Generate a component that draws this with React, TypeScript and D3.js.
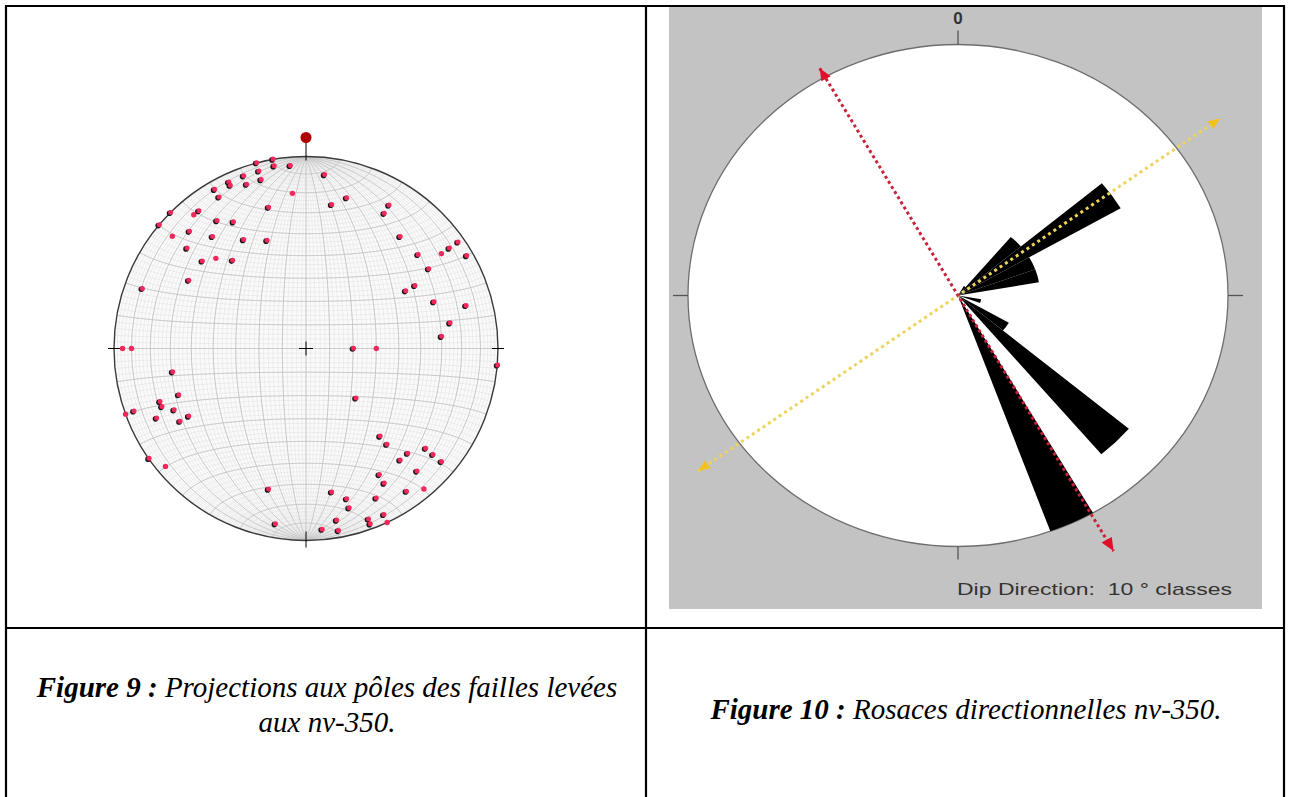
import React from "react";
import * as d3 from "d3";

const W = 1291;
const H = 797;

// Figure 9 — poles (trend, plunge in degrees), lower hemisphere
const poles: [number, number][] = [
  [350, 0], [345, 0], [350, 4], [355, 5], [345, 5], [340, 5], [345, 10], [335, 5],
  [340, 10], [335, 7], [330, 5], [330, 10], [345, 25], [315, 0], [322, 10], [325, 20],
  [330, 25], [310, 0], [315, 15], [320, 25], [330, 35], [340, 40], [310, 20], [310, 30],
  [320, 40], [300, 30], [290, 10],
  [6, 10], [15, 20], [10, 25], [30, 15], [30, 20], [40, 25], [55, 4], [55, 10],
  [50, 25], [60, 4], [57, 25], [60, 35], [60, 40], [70, 30], [75, 15], [80, 25], [85, 30],
  [90, 70], [95, 0], [135, 60],
  [260, 30], [250, 30], [250, 20], [248, 20], [250, 5], [245, 25], [245, 15], [240, 30],
  [240, 25], [235, 0],
  [140, 40], [140, 35], [130, 20], [136, 25], [130, 15], [140, 25], [130, 9], [150, 25],
  [138, 15], [150, 20], [195, 25], [170, 25], [145, 10], [165, 20], [155, 15], [165, 15],
  [155, 5], [170, 10], [160, 6], [160, 3], [190, 8], [175, 6], [170, 4],
];
// poles drawn without the dark outline
const plainPoles: [number, number][] = [
  [355, 20], [320, 10], [310, 10], [315, 34], [55, 15], [270, 5], [270, 10],
  [90, 60], [250, 0], [230, 5], [140, 5], [155, 0],
];

// Figure 10 — dip direction rose, 10° classes
const roseClassStart = d3.range(0, 360, 10);
const roseCounts = [
  0, 0, 0, 1, 7, 16, 7, 7, 0, 0, 2, 0,
  5, 19, 0, 23, 0, 0, 0, 0, 0, 0, 0, 0,
  0, 0, 0, 0, 0, 0, 0, 0, 0, 0, 0, 0,
];
const roseMax = 23;
// mean axes: azimuth, forward and backward reach (fraction of radius)
const redAxis = { azimuth: 150.5, fwd: 1.17, back: 1.04 };
const yellowAxis = { azimuth: 54, fwd: 1.2, back: 1.19 };

// stereonet geometry
const sx = 306;
const sy = 348.5;
const sR = 192;

// rose geometry
const rx = 958;
const ry = 295.5;
const rR = 251;
const stretch = 270 / 251;

const rad = (deg: number) => (deg * Math.PI) / 180;
const polar = (az: number, r: number): [number, number] => [
  r * Math.sin(rad(az)),
  -r * Math.cos(rad(az)),
];

const Stereonet: React.FC = () => {
  const net = d3
    .geoAzimuthalEqualArea()
    .scale(sR / Math.SQRT2)
    .translate([sx, sy])
    .clipAngle(90)
    .precision(0.2);
  const netPath = d3.geoPath(net);

  const minor = d3.geoGraticule().extent([[-180, -90], [180, 90]]).step([2, 2]).precision(1);
  const major = d3.geoGraticule().extent([[-180, -90], [180, 90]]).step([10, 10]).precision(1);

  // pole projection: polar aspect, north up
  const poleProj = d3
    .geoAzimuthalEqualArea()
    .rotate([0, -90])
    .scale(sR / Math.SQRT2)
    .translate([sx, sy]);
  const toXY = ([t, p]: [number, number]) => poleProj([180 - t, p]) as [number, number];

  return (
    <g>
      <circle cx={sx} cy={sy} r={sR} fill="#fafafa" />
      <path d={netPath(minor()) ?? ""} fill="none" stroke="#dedede" strokeWidth={0.5} />
      <path d={netPath(major()) ?? ""} fill="none" stroke="#c4c4c4" strokeWidth={0.85} />
      <circle cx={sx} cy={sy} r={sR} fill="none" stroke="#3a3a3a" strokeWidth={1.4} />

      {/* crosses */}
      <g stroke="#000" strokeWidth={1}>
        <line x1={sx - 7} x2={sx + 7} y1={sy} y2={sy} />
        <line x1={sx} x2={sx} y1={sy - 7} y2={sy + 7} />
        <line x1={sx - sR - 6} x2={sx - sR + 6} y1={sy} y2={sy} />
        <line x1={sx + sR - 6} x2={sx + sR + 6} y1={sy} y2={sy} />
        <line x1={sx} x2={sx} y1={sy + sR - 9} y2={sy + sR + 7} />
        <line x1={sx} x2={sx} y1={sy - sR + 4} y2={sy - sR - 16} />
      </g>
      <circle cx={sx} cy={sy - sR - 19} r={5.5} fill="#b00000" />

      {poles.map((p, i) => {
        const [x, y] = toXY(p);
        return (
          <g key={i}>
            <circle cx={x - 0.7} cy={y + 0.5} r={2.8} fill="#1a1a1a" />
            <circle cx={x + 0.4} cy={y - 0.3} r={2.5} fill="#f2275c" />
          </g>
        );
      })}
      {plainPoles.map((p, i) => {
        const [x, y] = toXY(p);
        return <circle key={i} cx={x} cy={y} r={2.7} fill="#f2275c" />;
      })}
    </g>
  );
};

const Arrow: React.FC<{ az: number; r: number; fill: string; size: number }> = ({ az, r, fill, size }) => {
  const tip = polar(az, r);
  const base = polar(az, r - size);
  const [nx, ny] = polar(az + 90, size * 0.42);
  const d = `M${tip[0]},${tip[1]}L${base[0] + nx},${base[1] + ny}L${base[0] - nx},${base[1] - ny}Z`;
  return <path d={d} fill={fill} />;
};

const Rose: React.FC = () => {
  const rScale = d3.scaleLinear().domain([0, roseMax]).range([0, rR]);
  const arc = d3.arc<{ outer: number; a0: number }>()
    .innerRadius(0)
    .outerRadius((d) => rScale(d.outer))
    .startAngle((d) => rad(d.a0))
    .endAngle((d) => rad(d.a0 + 10));

  const axisLine = (ax: { azimuth: number; fwd: number; back: number }) => {
    const a = polar(ax.azimuth, ax.fwd * rR);
    const b = polar(ax.azimuth + 180, ax.back * rR);
    return { x1: b[0], y1: b[1], x2: a[0], y2: a[1] };
  };
  const red = axisLine(redAxis);
  const yel = axisLine(yellowAxis);

  return (
    <g>
      <rect x={669} y={7} width={593} height={602} fill="#c3c3c3" />
      <g transform={`translate(${rx},${ry}) scale(${stretch},1)`}>
        <circle r={rR} fill="#fff" stroke="#6e6e6e" strokeWidth={1.3} vectorEffect="non-scaling-stroke" />
        <g stroke="#555" strokeWidth={1.3}>
          <line x1={0} x2={0} y1={-rR} y2={-rR - 14} vectorEffect="non-scaling-stroke" />
          <line x1={0} x2={0} y1={rR} y2={rR + 13} vectorEffect="non-scaling-stroke" />
          <line x1={-rR} x2={-rR - 14} y1={0} y2={0} vectorEffect="non-scaling-stroke" />
          <line x1={rR} x2={rR + 14} y1={0} y2={0} vectorEffect="non-scaling-stroke" />
        </g>
        {roseClassStart.map((a0, i) =>
          roseCounts[i] > 0 ? (
            <path key={a0} d={arc({ outer: roseCounts[i], a0 }) ?? ""} fill="#000" />
          ) : null
        )}
        <line {...yel} stroke="#eed35a" strokeWidth={3} strokeDasharray="3 3.5" vectorEffect="non-scaling-stroke" />
        <line {...red} stroke="#c8233a" strokeWidth={3} strokeDasharray="3 3" vectorEffect="non-scaling-stroke" />
        <Arrow az={yellowAxis.azimuth} r={yellowAxis.fwd * rR} fill="#f2c21c" size={11} />
        <Arrow az={yellowAxis.azimuth + 180} r={yellowAxis.back * rR} fill="#f2c21c" size={11} />
        <Arrow az={redAxis.azimuth} r={redAxis.fwd * rR} fill="#e0102a" size={13} />
        <Arrow az={redAxis.azimuth + 180} r={redAxis.back * rR} fill="#e0102a" size={12} />
      </g>
      <text x={rx} y={24} textAnchor="middle" fontFamily="Liberation Sans, Arial" fontSize={17} fontWeight="bold" fill="#333">
        0
      </text>
      <text
        x={957}
        y={595}
        fontFamily="Liberation Sans, Arial"
        fontSize={17}
        fill="#333"
        textLength={275}
        lengthAdjust="spacingAndGlyphs"
        style={{ whiteSpace: "pre" }}
      >
        {"Dip Direction:  10 \u00b0 classes"}
      </text>
    </g>
  );
};

export default function App() {
  return (
    <svg
      width={W}
      height={H}
      viewBox={`0 0 ${W} ${H}`}
      style={{ position: "absolute", left: 0, top: 0, background: "#fff" }}
    >
      <rect width={W} height={H} fill="#fff" />
      <Stereonet />
      <Rose />

      {/* table borders */}
      <g stroke="#000" strokeWidth={2.2}>
        <line x1={5} x2={1285} y1={6} y2={6} />
        <line x1={5} x2={1285} y1={628} y2={628} />
        <line x1={6} x2={6} y1={5} y2={H} />
        <line x1={646} x2={646} y1={5} y2={H} />
        <line x1={1284} x2={1284} y1={5} y2={H} />
      </g>

      <g fontFamily="Liberation Serif, Times New Roman, serif" fontStyle="italic" fontSize={29} fill="#000" textAnchor="middle">
        <text x={327} y={697}>
          <tspan fontWeight="bold">Figure 9 :</tspan> Projections aux pôles des failles levées
        </text>
        <text x={327} y={732}>aux nv-350.</text>
        <text x={966} y={719}>
          <tspan fontWeight="bold">Figure 10 :</tspan> Rosaces directionnelles nv-350.
        </text>
      </g>
    </svg>
  );
}
